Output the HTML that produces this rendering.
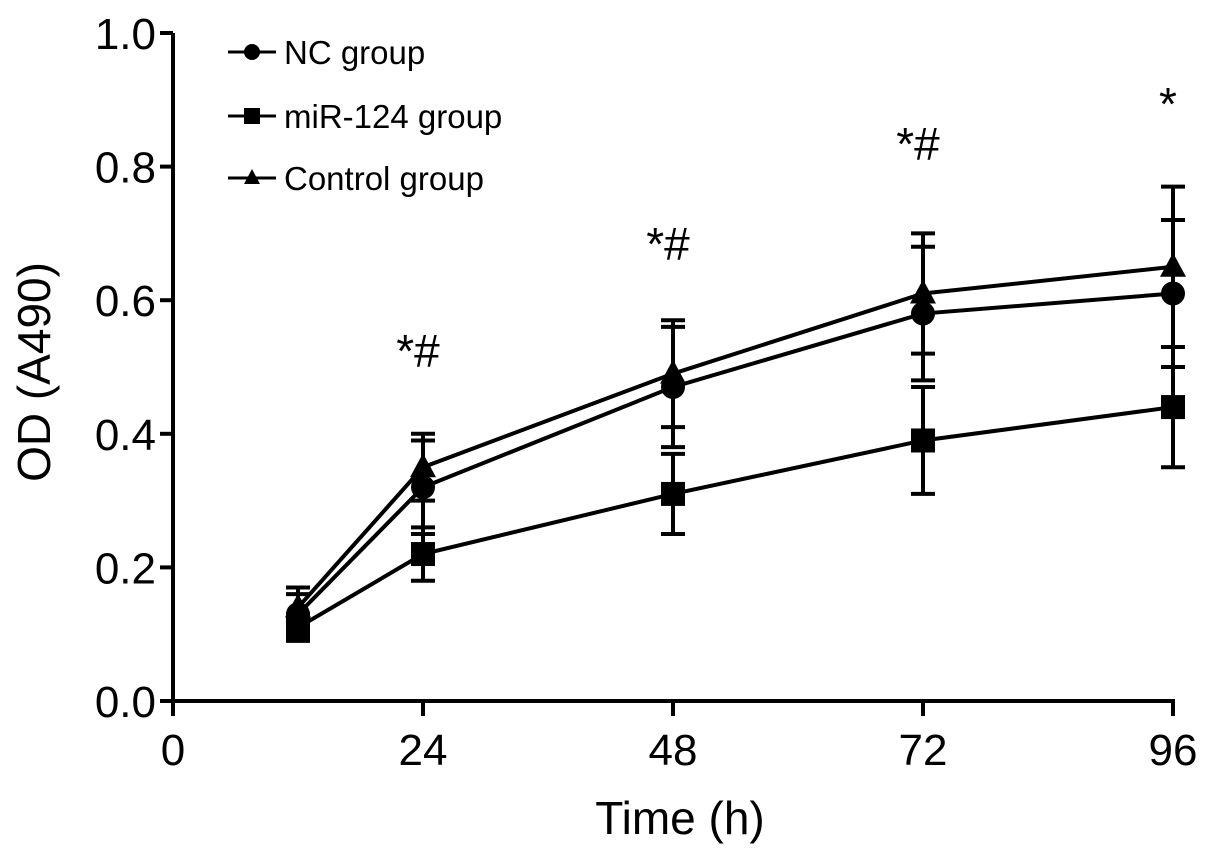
<!DOCTYPE html>
<html><head><meta charset="utf-8"><style>
html,body{margin:0;padding:0;background:#fff;}
svg text{font-family:"Liberation Sans",Arial,sans-serif;fill:#000;}
</style></head><body>
<svg id="chart" width="1205" height="853" viewBox="0 0 1205 853" xmlns="http://www.w3.org/2000/svg"></svg>
<script>
const times = [12, 24, 48, 72, 96];
const ncValues = [0.13, 0.32, 0.47, 0.58, 0.61];
const ncErrors = [0.03, 0.07, 0.09, 0.10, 0.11];
const mirValues = [0.11, 0.22, 0.31, 0.39, 0.44];
const mirErrors = [0.02, 0.04, 0.06, 0.08, 0.09];
const ctrlValues = [0.14, 0.35, 0.49, 0.61, 0.65];
const ctrlErrors = [0.03, 0.05, 0.08, 0.09, 0.12];
const xTicks = [0, 24, 48, 72, 96];
const yTicks = [0, 0.2, 0.4, 0.6, 0.8, 1.0];
const annotTimes = [24, 48, 72, 96];
const annotLabels = ["*#", "*#", "*#", "*"];
const annotValues = [0.50, 0.66, 0.81, 0.87];

const NS = "http://www.w3.org/2000/svg";
const svg = document.getElementById("chart");
const x = t => 173 + t * (1000 / 96);
const y = v => 701 - v * 668;
function el(tag, attrs, parent) {
  const e = document.createElementNS(NS, tag);
  for (const k in attrs) e.setAttribute(k, attrs[k]);
  (parent || svg).appendChild(e);
  return e;
}
let a = el("line", {x1: 173, y1: y(1.0), x2: 173, y2: 703, stroke: "#000", "stroke-width": 4});


a = el("line", {x1: 160, y1: 701, x2: 1175, y2: 701, stroke: "#000", "stroke-width": 4});


yTicks.forEach(v => {
  const t = el("line", {x1: 160, y1: y(v), x2: 173, y2: y(v), stroke: "#000", "stroke-width": 4});
  
  
  const l = el("text", {x: 156, y: y(v) + 16, "font-size": 44, "text-anchor": "end"});
  l.textContent = v.toFixed(1);
  
  
});
xTicks.forEach(v => {
  const t = el("line", {x1: x(v), y1: 701, x2: x(v), y2: 716, stroke: "#000", "stroke-width": 4});
  
  
  const l = el("text", {x: x(v), y: 765, "font-size": 44, "text-anchor": "middle"});
  l.textContent = v;
  
  
});
let tt = el("text", {x: 680, y: 834, "font-size": 46, "text-anchor": "middle"});
tt.textContent = "Time (h)";


tt = el("text", {x: 0, y: 0, "font-size": 46, "text-anchor": "middle", transform: "translate(50,372) rotate(-90)"});
tt.textContent = "OD (A490)";



function marker(shape, cx, cy, parent) {
  let m;
  if (shape === "circle") m = el("circle", {cx: cx, cy: cy, r: 12, fill: "#000"}, parent);
  else if (shape === "square") m = el("rect", {x: cx - 12, y: cy - 12, width: 24, height: 24, fill: "#000"}, parent);
  else m = el("polygon", {points: `${cx},${cy - 14} ${cx + 13},${cy + 10} ${cx - 13},${cy + 10}`, fill: "#000"}, parent);
  return m;
}
function series(name, vals, errs, shape) {
  const g = el("g", {});
  
  
  vals.forEach((v, i) => {
    const cx = x(times[i]);
    const e = el("path", {d: `M${cx},${y(v + errs[i])}V${y(v - errs[i])}M${cx - 12},${y(v + errs[i])}h24M${cx - 12},${y(v - errs[i])}h24`, stroke: "#000", "stroke-width": 4, fill: "none"}, g);
    
    
  });
  const pl = el("polyline", {points: vals.map((v, i) => x(times[i]) + "," + y(v)).join(" "), stroke: "#000", "stroke-width": 4, fill: "none"}, g);
  
  
  vals.forEach((v, i) => {
    const m = marker(shape, x(times[i]), y(v), g);
    
    
  });
}
series("mir124", mirValues, mirErrors, "square");
series("nc", ncValues, ncErrors, "circle");
series("control", ctrlValues, ctrlErrors, "triangle");

annotTimes.forEach((t, i) => {
  const l = el("text", {x: x(t) - 5, y: y(annotValues[i]), "font-size": 46, "text-anchor": "middle"});
  l.textContent = annotLabels[i];
  
  
});

const leg = el("g", {});


[["NC group", "circle", 52], ["miR-124 group", "square", 116], ["Control group", "triangle", 178]].forEach(([lab, sh, ly]) => {
  const g = el("g", {}, leg);
  
  
  el("line", {x1: 228, y1: ly, x2: 276, y2: ly, stroke: "#000", "stroke-width": 3}, g);
  el(sh === "circle" ? "circle" : sh === "square" ? "rect" : "polygon",
    sh === "circle" ? {cx: 252, cy: ly, r: 8, fill: "#000"} :
    sh === "square" ? {x: 244, y: ly - 8, width: 16, height: 16, fill: "#000"} :
    {points: `252,${ly - 9} 260,${ly + 6} 244,${ly + 6}`, fill: "#000"}, g);
  const t = el("text", {x: 284, y: ly + 12, "font-size": 33}, g);
  t.textContent = lab;
});
</script>
</body></html>
